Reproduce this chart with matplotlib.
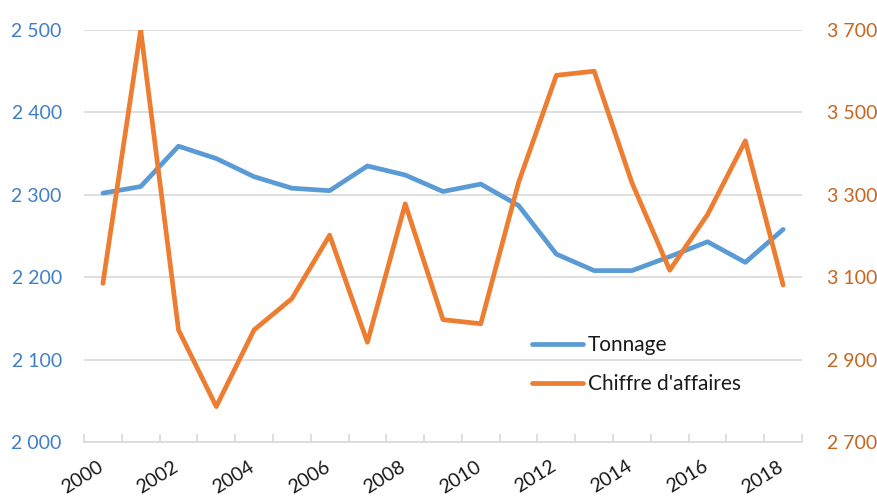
import matplotlib
matplotlib.use("Agg")
import matplotlib.pyplot as plt
import matplotlib.transforms as mtransforms
from matplotlib.ticker import FixedLocator, FuncFormatter

years = list(range(2000, 2019))
tonnage = [2302, 2310, 2359, 2344, 2322, 2308, 2305, 2335, 2324, 2304,
           2313, 2287, 2228, 2208, 2208, 2225, 2243, 2218, 2258]
chiffre = [3085, 3700, 2972, 2786, 2972, 3048, 3202, 2942, 3278, 2997,
           2987, 3330, 3590, 3600, 3329, 3117, 3252, 3431, 3081]
left_ticks = [2000, 2100, 2200, 2300, 2400, 2500]
right_ticks = [2700, 2900, 3100, 3300, 3500, 3700]
series_names = ["Tonnage", "Chiffre d'affaires"]

plt.rcParams['font.family'] = ['Lato', 'DejaVu Sans']

BLUE = '#5b9bd5'
ORANGE = '#ed7d31'
BLUE_TXT = '#3f7fc6'
ORANGE_TXT = '#c8651f'
GRID = '#d9d9d9'

fig = plt.figure(figsize=(8.77, 4.97), dpi=100)
ax = fig.add_axes([84/877, 1-442/497, (802-84)/877, (442-30)/497])
ax2 = ax.twinx()

x = list(range(len(years)))
l1, = ax.plot(x, tonnage, color=BLUE, lw=3.4, solid_joinstyle='round', solid_capstyle='round')
l2, = ax2.plot(x, chiffre, color=ORANGE, lw=3.4, solid_joinstyle='round', solid_capstyle='round')

ax.set_xlim(-0.5, len(years) - 0.5)
ax.set_ylim(left_ticks[0], left_ticks[-1])
ax2.set_ylim(right_ticks[0], right_ticks[-1])

fmt = FuncFormatter(lambda v, p: f"{int(v):,}".replace(",", " "))
ax.yaxis.set_major_locator(FixedLocator(left_ticks))
ax2.yaxis.set_major_locator(FixedLocator(right_ticks))
ax.yaxis.set_major_formatter(fmt)
ax2.yaxis.set_major_formatter(fmt)

ax.grid(axis='y', color=GRID, lw=1.2)
ax.set_axisbelow(True)

for a in (ax, ax2):
    for s in ('top', 'left', 'right', 'bottom'):
        a.spines[s].set_visible(False)
ax.spines['bottom'].set_visible(True)
ax.spines['bottom'].set_color(GRID)
ax.spines['bottom'].set_linewidth(1.2)

ax.tick_params(axis='y', length=0, pad=16, labelsize=14, labelcolor=BLUE_TXT)
ax2.tick_params(axis='y', length=0, pad=18, labelsize=14, labelcolor=ORANGE_TXT)

# x axis: labels on even years, tick marks at category boundaries
label_idx = [i for i, y in enumerate(years) if y % 2 == 0]
ax.set_xticks(label_idx)
ax.set_xticklabels([str(years[i]) for i in label_idx], rotation=32, ha='right',
                   rotation_mode='anchor', fontsize=14, color='#1a1a1a')
ax.set_xticks([i - 0.5 for i in range(len(years) + 1)], minor=True)
ax.tick_params(axis='x', which='major', length=0, pad=12)
ax.tick_params(axis='x', which='minor', direction='in', length=6, color=GRID, width=1.2)
offset = mtransforms.ScaledTranslation(-6/100, 1/100, fig.dpi_scale_trans)
for lab in ax.get_xticklabels():
    lab.set_va('top')
    lab.set_transform(lab.get_transform() + offset)

leg = fig.legend([l1, l2], series_names, loc='upper left',
                 bbox_to_anchor=(532/877, 1-335/497), bbox_transform=fig.transFigure,
                 frameon=False, fontsize=15, handlelength=2.45, handletextpad=0.25,
                 labelspacing=0.92, borderpad=0, borderaxespad=0)
for t in leg.get_texts():
    t.set_color('#1a1a1a')

fig.savefig('out.png', dpi=100)
